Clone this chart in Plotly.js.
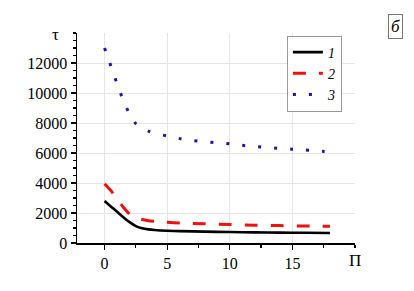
<!DOCTYPE html>
<html>
<head>
<meta charset="utf-8">
<script src="https://cdn.plot.ly/plotly-3.0.1.min.js"></script>
<style>html,body{margin:0;padding:0;background:#fff;}#chart{width:414px;height:291px;}</style>
</head>
<body>
<div id="chart"></div>
<script>
// Data
var seriesNames = ["1", "2", "3"];
var x1 = [0, 0.5, 1, 1.5, 2, 2.5, 3, 3.5, 4, 5, 6, 8, 10, 12, 14, 16, 18];
var y1 = [2800, 2440, 2080, 1720, 1390, 1130, 980, 910, 870, 820, 790, 760, 730, 710, 690, 680, 670];
var x2 = [0, 0.5, 1, 1.5, 2, 2.5, 3, 3.5, 4, 5, 6, 8, 10, 12, 14, 16, 18];
var y2 = [3950, 3500, 2950, 2380, 1930, 1700, 1570, 1490, 1440, 1380, 1340, 1280, 1230, 1190, 1160, 1130, 1110];
var x3 = [0, 0.5, 1, 1.5, 2, 2.5, 3, 3.5, 4, 5, 6, 7, 8, 9, 10, 11, 12, 13, 14, 15, 16, 17, 18];
var y3 = [13000, 11810, 10620, 9500, 8600, 7950, 7650, 7460, 7330, 7130, 6960, 6830, 6750, 6680, 6610, 6510, 6430, 6370, 6310, 6250, 6200, 6140, 6080];
var xTicks = [0, 5, 10, 15];
var yTicks = [0, 2000, 4000, 6000, 8000, 10000, 12000];
var xAxisLabel = "П";
var yAxisLabel = "τ";
var panelLabel = "б";

var serif = "'Times New Roman', 'Liberation Serif', serif";

var traces = [
  {x: x1, y: y1, name: "<i>" + seriesNames[0] + "</i>", mode: "lines",
   line: {color: "#000000", width: 2.6, shape: "spline", smoothing: 0.7}},
  {x: x2, y: y2, name: "<i>" + seriesNames[1] + "</i>", mode: "lines",
   line: {color: "#ee1111", width: 3, dash: "13px,13px", shape: "spline", smoothing: 0.7}},
  {x: x3, y: y3, name: "<i>" + seriesNames[2] + "</i>", mode: "lines",
   line: {color: "#1a14a8", width: 3, dash: "3px,13px", shape: "spline", smoothing: 0.7}}
];

var layout = {
  width: 414, height: 291,
  margin: {l: 77, r: 59, t: 33, b: 48, pad: 0},
  paper_bgcolor: "#ffffff", plot_bgcolor: "#ffffff",
  font: {family: serif, size: 15, color: "#000"},
  showlegend: true,
  legend: {
    x: 0.755, y: 0.988, xanchor: "left", yanchor: "top",
    bgcolor: "#ffffff", bordercolor: "#999999", borderwidth: 1,
    font: {family: serif, size: 14, color: "#000"},
    tracegroupgap: 0, itemwidth: 30
  },
  xaxis: {
    range: [-2.2, 20], showline: true, linecolor: "#000", linewidth: 1.5,
    tickvals: xTicks, ticktext: xTicks.map(String), ticks: "outside", ticklen: 5, tickwidth: 1.2, tickcolor: "#000",
    showgrid: true, gridcolor: "#e6e6e6", gridwidth: 1, zeroline: false,
    minor: {dtick: 2.5, tick0: 0, ticks: "outside", ticklen: 3, tickcolor: "#000", showgrid: false},
    tickfont: {family: serif, size: 16, color: "#000"}, fixedrange: true
  },
  yaxis: {
    range: [0, 14000], showline: true, linecolor: "#000", linewidth: 1.5,
    tickvals: yTicks, ticktext: yTicks.map(String), ticks: "outside", ticklen: 5, tickwidth: 1.2, tickcolor: "#000",
    showgrid: true, gridcolor: "#e6e6e6", gridwidth: 1, zeroline: false,
    minor: {dtick: 500, tick0: 0, ticks: "outside", ticklen: 3, tickcolor: "#000", showgrid: false},
    tickfont: {family: serif, size: 16, color: "#000"}, fixedrange: true
  },
  annotations: [
    {xref: "paper", yref: "paper", x: 1.0, y: 0, xanchor: "center", yanchor: "top", yshift: -6, xshift: 0,
     text: xAxisLabel, showarrow: false, font: {family: serif, size: 17, color: "#000"}},
    {xref: "paper", yref: "paper", x: 0, y: 1, xanchor: "right", yanchor: "middle", xshift: -16, yshift: -1,
     text: yAxisLabel, showarrow: false, font: {family: serif, size: 17, color: "#000"}},
    {xref: "paper", yref: "paper", x: 1.119, y: 1.029, xanchor: "left", yanchor: "middle",
     text: "<i>" + panelLabel + "</i>", showarrow: false, bordercolor: "#777", borderwidth: 1, borderpad: 2,
     font: {family: serif, size: 17, color: "#000"}}
  ]
};

Plotly.newPlot("chart", traces, layout, {displayModeBar: false, staticPlot: true});
</script>
</body>
</html>
